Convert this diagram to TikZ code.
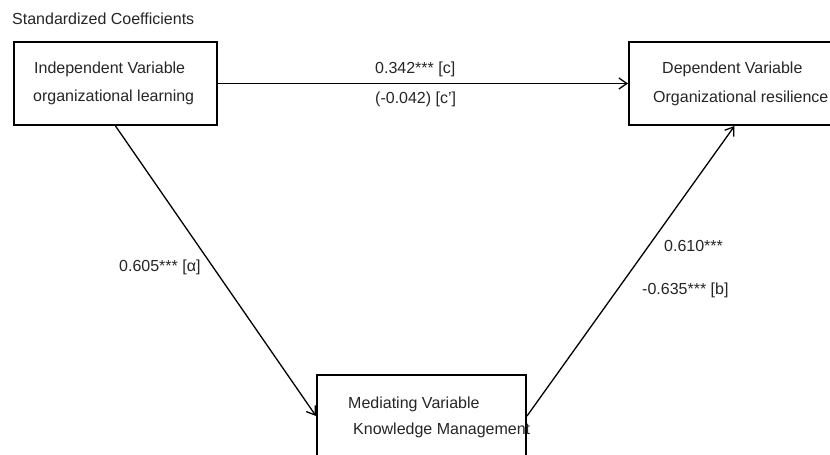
\documentclass[tikz,border=0pt]{standalone}
\usepackage{fontspec}
\setmainfont{Liberation Sans}
\usetikzlibrary{arrows.meta}
\begin{document}
\begin{tikzpicture}[x=1pt,y=-1pt,
  varbox/.style={draw=black, line width=2pt, inner sep=0pt, fill=none},
  txt/.style={anchor=base west, inner sep=0pt, font=\fontsize{16}{19}\selectfont, text=black!85},
  conn/.style={line width=1.3pt, -{Straight Barb[length=8pt,width=11pt,line width=1.3pt]}}
]
\useasboundingbox[fill=white] (0,0) rectangle (830,455);
% title
\node[txt] (title) at (12,24) {Standardized Coefficients};
% boxes
\node[varbox, minimum width=203pt, minimum height=83pt] (L) at (115.5,83.5) {};
\node[varbox, minimum width=211pt, minimum height=83pt] (R) at (734.5,83.5) {};
\node[varbox, minimum width=209pt, minimum height=82pt] (M) at (421.5,416) {};
% box texts
\node[txt] (Lt1) at (34,73) {Independent Variable};
\node[txt] (Lt2) at (33,101) {organizational learning};
\node[txt] (Rt1) at (662,73) {Dependent Variable};
\node[txt] (Rt2) at (653,102) {Organizational resilience};
\node[txt] (Mt1) at (348,408) {Mediating Variable};
\node[txt] (Mt2) at (353,434) {Knowledge Management};
% connectors
\draw[conn, line width=1.6pt] (L.east) -- (R.west);
\draw[conn] (L.south) -- (M.west);
\draw[conn] (M.east) -- (R.south);
% labels
\node[txt] (c) at (375,73) {0.342*** [c]};
\node[txt] (cp) at (375,103) {(-0.042) [c']};
\node[txt] (a) at (119,271) {0.605*** [α]};
\node[txt] (b1) at (664,251) {0.610***};
\node[txt] (b2) at (642,294) {-0.635*** [b]};
\end{tikzpicture}
\end{document}
